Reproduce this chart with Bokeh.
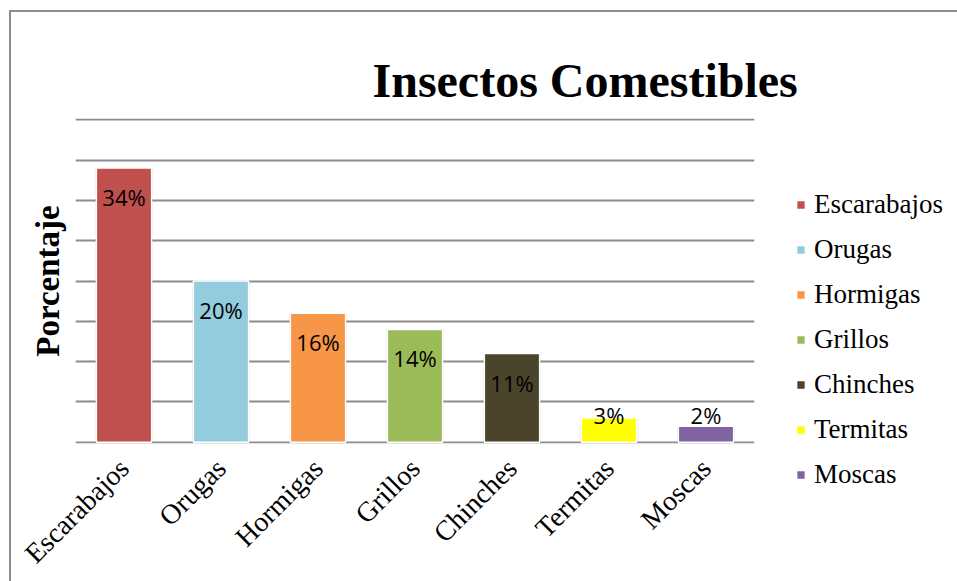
from bokeh.plotting import figure
from bokeh.models import ColumnDataSource, Legend, LegendItem, Title, SingleIntervalTicker
from bokeh.core.properties import value
from bokeh.embed import file_html
from bokeh.resources import INLINE
import math

# Data
insects = ["Escarabajos", "Orugas", "Hormigas", "Grillos", "Chinches", "Termitas", "Moscas"]
percent = [34, 20, 16, 14, 11, 3, 2]
colors = ["#C0504D", "#93CDDD", "#F79646", "#9BBB59", "#4A452A", "#FFFF00", "#8064A2"]
y_max = 40
y_step = 5

labels = [f"{v}%" for v in percent]
# labels sit inside the top of tall bars, just above the short ones
inside = [v >= 5 for v in percent]
label_y = [v if ok else 0 for v, ok in zip(percent, inside)]
label_off = [29 if ok else -27 for ok in inside]

src = ColumnDataSource(dict(x=insects, top=percent, color=colors,
                            label=labels, ly=label_y, loff=label_off))

# a little slack around 0 and the maximum so the edge gridlines stay visible
pad = 0.15
p = figure(x_range=insects, y_range=(-pad, y_max + pad),
           frame_width=679, frame_height=325,
           min_border_left=64, min_border_right=203,
           min_border_top=106, min_border_bottom=138,
           output_backend="svg", toolbar_location=None,
           background_fill_color="white", border_fill_color="white")
p.styles = {"border-top": "2px solid #8c8c8c", "border-left": "2px solid #8c8c8c",
            "margin-left": "9px", "margin-top": "10px"}
p.outline_line_color = None

# grid
p.xgrid.grid_line_color = None
p.ygrid.grid_line_color = "#8c8c8c"
p.ygrid.grid_line_width = 2
p.yaxis.visible = False
p.yaxis.ticker = SingleIntervalTicker(interval=y_step)
p.ygrid.ticker = SingleIntervalTicker(interval=y_step)

# x axis
p.xaxis.axis_line_color = None
p.xaxis.major_tick_line_color = None
p.xaxis.minor_tick_line_color = None
p.xaxis.major_label_orientation = math.pi / 4
p.xaxis.major_label_text_font = "Liberation Serif"
p.xaxis.major_label_text_font_size = "28px"
p.xaxis.major_label_text_color = "black"
p.xaxis.major_label_standoff = 14

# soft shadow and bars
p.vbar(x="x", top="top", width=0.6, source=src, fill_color="#000000",
       fill_alpha=0.08, line_color=None)
bars = p.vbar(x="x", top="top", width=0.57, source=src, fill_color="color",
              line_color="white", line_width=1.5)

p.text(x="x", y="ly", text="label", y_offset="loff", source=src,
       text_align="center", text_baseline="middle",
       text_font=value("Open Sans"), text_font_size="22px", text_color="black")

# titles
p.add_layout(Title(text="Insectos Comestibles", align="left", offset=297,
                   text_font="Liberation Serif", text_font_style="bold",
                   text_font_size="48px", text_color="black", standoff=24), "above")
p.add_layout(Title(text="Porcentaje", align="center",
                   text_font="Liberation Serif", text_font_style="bold",
                   text_font_size="33px", text_color="black", standoff=20), "left")

# legend
items = [LegendItem(label=name, renderers=[bars], index=i) for i, name in enumerate(insects)]
legend = Legend(items=items, location=(41, -47), spacing=14,
                glyph_width=11, glyph_height=11, label_standoff=8,
                label_text_font="Liberation Serif", label_text_font_size="27px",
                label_text_color="black",
                padding=0, margin=0, border_line_color=None,
                background_fill_alpha=0)
p.add_layout(legend, "right")

open("out.html", "w").write(file_html(p, INLINE))
